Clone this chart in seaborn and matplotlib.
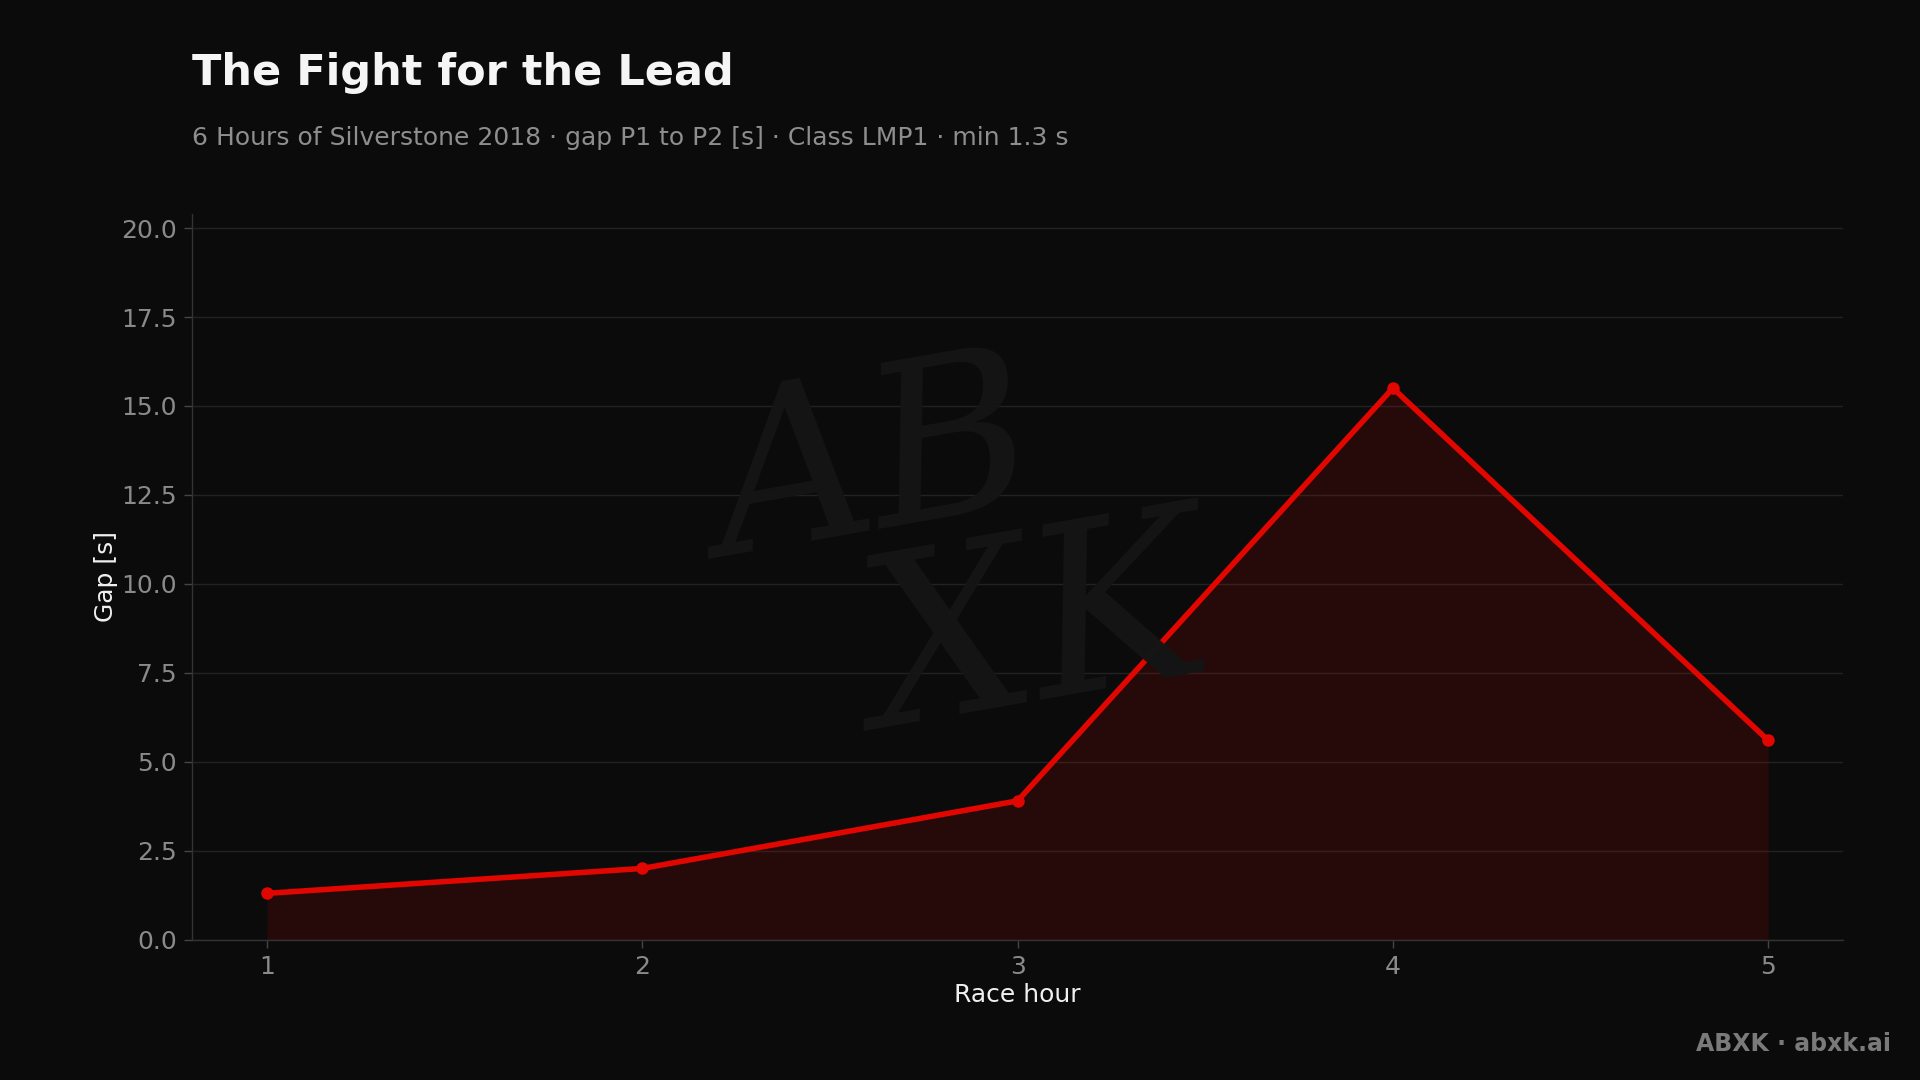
import numpy as np
import pandas as pd
import matplotlib.pyplot as plt
import seaborn as sns

BG = "#0b0b0b"
RED = "#e10600"
GRID = "#222222"
TICK = "#8a8a8a"

hours = [1, 2, 3, 4, 5]
gap_s = [1.3, 2.0, 3.9, 15.5, 5.6]

df = pd.DataFrame({"Race hour": hours, "Gap [s]": gap_s})

sns.set_theme(style="dark")
plt.rcParams["font.family"] = ["DejaVu Sans"]

fig = plt.figure(figsize=(19.2, 10.8), dpi=100, facecolor=BG)
ax = fig.add_axes([0.1, 0.13, 0.86, 0.672])
ax.set_facecolor(BG)

# faint signature watermark
fig.text(0.455, 0.565, "AB", fontsize=160, color="#151515", style="italic",
         family="DejaVu Serif", ha="center", va="center", rotation=10, zorder=0)
fig.text(0.54, 0.41, "XK", fontsize=170, color="#151515", style="italic",
         family="DejaVu Serif", ha="center", va="center", rotation=10, zorder=0)

ax.fill_between(df["Race hour"], df["Gap [s]"], 0, color=RED, alpha=0.13,
                linewidth=0, zorder=2)
sns.lineplot(data=df, x="Race hour", y="Gap [s]", ax=ax, color=RED,
             linewidth=4, marker="o", markersize=9, markeredgewidth=0, zorder=3)

ax.set_xlim(0.8, 5.2)
ax.set_ylim(0, 20.4)
ax.set_xticks(hours)
ax.set_yticks(np.arange(0, 20.1, 2.5))
ax.yaxis.set_major_formatter(plt.FormatStrFormatter("%.1f"))

ax.grid(axis="y", color=GRID, linewidth=1)
ax.grid(axis="x", visible=False)
for side in ["top", "right"]:
    ax.spines[side].set_visible(False)
for side in ["left", "bottom"]:
    ax.spines[side].set_color("#333333")
    ax.spines[side].set_linewidth(1)

ax.tick_params(axis="both", colors=TICK, labelsize=18, length=6, width=1,
               left=True, bottom=True, pad=5)
ax.tick_params(axis="both", color="#444444")
ax.set_xlabel("Race hour", color="#f0f0f0", fontsize=18, labelpad=3)
ax.set_ylabel("Gap [s]", color="#f0f0f0", fontsize=18, labelpad=2)

fig.text(0.1, 0.921, "The Fight for the Lead", color="#f5f5f5", fontsize=31,
         fontweight="bold", ha="left", va="baseline")
fig.text(0.1, 0.866, "6 Hours of Silverstone 2018 \u00b7 gap P1 to P2 [s] \u00b7 Class LMP1 \u00b7 min 1.3 s",
         color="#8e8e8e", fontsize=18, ha="left", va="baseline")
fig.text(0.985, 0.033, "ABXK \u00b7 abxk.ai", color="#7a7a7a", fontsize=17,
         fontweight="bold", ha="right", va="center")

fig.savefig("out.png", dpi=100, facecolor=BG)
